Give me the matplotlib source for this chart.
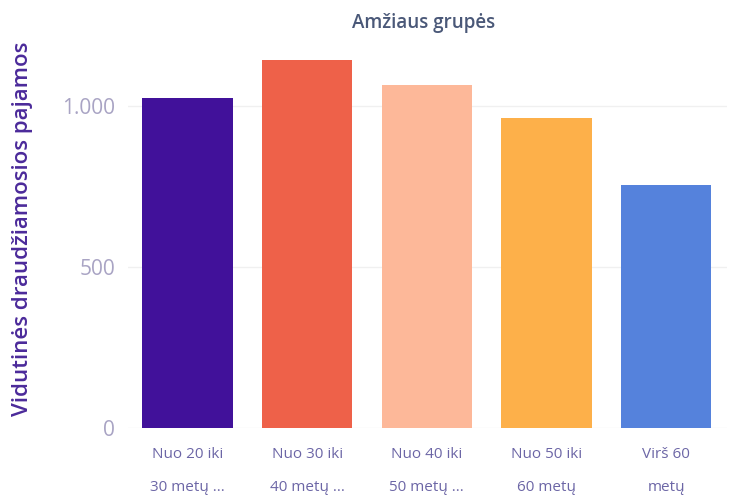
import matplotlib
matplotlib.use("Agg")
import matplotlib.pyplot as plt

# data
categories = ["Nuo 20 iki\n30 metų ...", "Nuo 30 iki\n40 metų ...", "Nuo 40 iki\n50 metų ...",
              "Nuo 50 iki\n60 metų", "Virš 60\nmetų"]
values = [1025, 1143, 1066, 963, 755]
colors = ["#41119a", "#ee6149", "#fdb899", "#fdb04a", "#5582dc"]
yticks = [0, 500, 1000]
yticklabels = ["0", "500", "1.000"]

plt.rcParams['font.family'] = ['Open Sans', 'DejaVu Sans']

fig = plt.figure(figsize=(7.30, 5.03), dpi=100)
ax = fig.add_axes([0.175, 0.149, 0.821, 0.768])

x = range(len(categories))
ax.bar(x, values, width=0.755, color=colors, zorder=2)

ax.set_xlim(-0.5, len(categories) - 0.49)
ax.set_ylim(0, 1200)
ax.set_yticks(yticks)
ax.set_yticklabels(yticklabels)
ax.set_xticks(list(x))
ax.set_xticklabels(categories, linespacing=2.6)

ax.grid(axis='y', color='#f0f0f0', linewidth=1, zorder=0)
for s in ax.spines.values():
    s.set_visible(False)
ax.tick_params(axis='both', length=0)
ax.tick_params(axis='y', labelsize=15, labelcolor='#a9a4c4', pad=9)
ax.tick_params(axis='x', labelsize=11, labelcolor='#6c66a6', pad=14)

ax.set_ylabel("Vidutinės draudžiamosios pajamos", fontsize=16, color='#4b2a9a',
              fontweight='semibold')
ax.yaxis.set_label_coords(-0.158, 0.515)
fig.text(0.58, 0.955, "Amžiaus grupės", ha='center', va='center', fontsize=13.5,
         color='#4a5878', fontweight='semibold')

fig.savefig("out.png", dpi=100)
